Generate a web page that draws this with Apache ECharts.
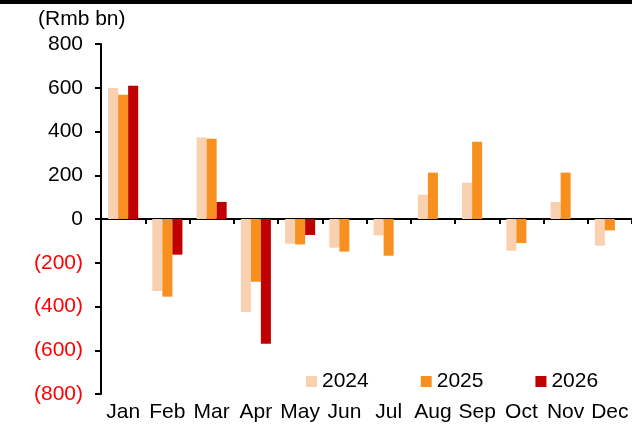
<!DOCTYPE html>
<html>
<head>
<meta charset="UTF-8">
<title>Rmb bn</title>
<script src="https://cdn.jsdelivr.net/npm/echarts@6/dist/echarts.min.js"></script>
<style>
	html,body{margin:0;padding:0;background:#fff;}
	#main{width:632px;height:424px;}
</style>
</head>
<body>
<div id="main"></div>
<script type="text/javascript">
	var months = ["Jan","Feb","Mar","Apr","May","Jun","Jul","Aug","Sep","Oct","Nov","Dec"];
	var y2024 = [599, -329, 373, -425, -113, -131, -75, 111, 166, -145, 78, -122];
	var y2025 = [568, -355, 367, -287, -116, -149, -168, 212, 353, -110, 212, -52];
	var y2026 = [609, -163, 78, -570, -73, null, null, null, null, null, null, null];
	var yTicks = [-800, 800, 200];  // min, max, step

	var font = "'Liberation Sans', Arial, sans-serif";

	function yLabel(v){
		if(v < 0){
			return "{neg|(" + Math.abs(v) + ")}";
		}
		return "{pos|" + v + "}";
	}

	var myChart = echarts.init(document.getElementById('main'));
	var option = {
		animation:false,
		textStyle:{fontFamily:font},
		graphic:[
			{type:'rect', shape:{x:0, y:0, width:632, height:4}, style:{fill:'#000'}}
		],
		title:{
			text:'(Rmb bn)',
			left:38, top:9,
			padding:0,
			textStyle:{fontFamily:font, fontSize:21, fontWeight:'normal', color:'#000'}
		},
		legend:{
			left:301, top:366,
			itemWidth:11, itemHeight:11, itemGap:52,
			icon:'rect',
			textStyle:{fontFamily:font, fontSize:21, color:'#000'},
			data:['2024','2025','2026']
		},
		grid:{left:101, right:0, top:44, bottom:30, containLabel:false},
		xAxis:[
			{
				type:'category', data:months,
				axisLine:{onZero:true, lineStyle:{color:'#000', width:2}},
				axisTick:{show:true, length:5, lineStyle:{color:'#000', width:2}},
				axisLabel:{show:false}
			},
			{
				type:'category', data:months, position:'bottom',
				axisLine:{show:false, onZero:false},
				axisTick:{show:false},
				axisLabel:{interval:0, fontFamily:font, fontSize:21, color:'#000', margin:8}
			}
		],
		yAxis:{
			type:'value', min:yTicks[0], max:yTicks[1], interval:yTicks[2],
			splitLine:{show:false},
			axisLine:{show:true, lineStyle:{color:'#000', width:2}},
			axisTick:{show:true, length:6, lineStyle:{color:'#000', width:2}},
			axisLabel:{
				margin:18,
				formatter:yLabel,
				rich:{
					neg:{fontFamily:font, fontSize:21, color:'#ff0000'},
					pos:{fontFamily:font, fontSize:21, color:'#000'}
				}
			}
		},
		series:[
			{name:'2024', type:'bar', data:y2024, itemStyle:{color:'#f9d0b0'}, barGap:'0%', barCategoryGap:'32%'},
			{name:'2025', type:'bar', data:y2025, itemStyle:{color:'#f7901e'}, barGap:'0%', barCategoryGap:'32%'},
			{name:'2026', type:'bar', data:y2026, itemStyle:{color:'#c00000'}, barGap:'0%', barCategoryGap:'32%'}
		]
	};
	myChart.setOption(option);
</script>
</body>
</html>
